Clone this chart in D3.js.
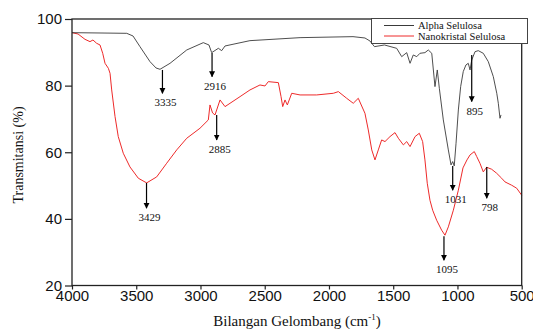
<!DOCTYPE html>
<html><head><meta charset="utf-8">
<script src="https://cdn.jsdelivr.net/npm/d3@7"></script>
<style>html,body{margin:0;padding:0;background:#fff;}svg{display:block;}</style>
</head><body><svg id="c" width="533" height="329"></svg>
<script>
// ---- data ----
const alphaWave = [4000,3782,3574,3525,3471,3393,3346,3315,3237,3107,2978,2934,2913,2861,2835,2809,2615,2225,1813,1720,1681,1646,1568,1473,1434,1395,1369,1344,1317,1292,1253,1227,1200,1175,1157,1141,1110,1071,1050,1037,1025,1011,993,975,955,934,916,902,889,863,838,799,760,721,694,682,669,661];
const alphaT    = [95.9,95.8,95.7,94.9,91.7,87.2,85.3,84.9,86.7,90.7,92.9,92.2,89.9,91.2,90.5,91.9,93.5,94.4,94.7,94.3,93.4,91.7,92.2,91.2,88.7,89.9,86.7,89.2,88.7,89.7,89.9,90.7,89.7,79.7,84.7,79.2,69.7,60.7,56.2,57.2,55.9,62.7,72.7,79.7,84.2,86.2,86.7,84.7,87.7,90.2,90.5,89.7,87.2,82.7,77.7,74.7,70.2,71.2];
const nanoWave = [4000,3953,3899,3860,3837,3808,3782,3761,3743,3717,3704,3691,3665,3640,3601,3549,3484,3419,3341,3263,3185,3107,3004,2939,2926,2906,2887,2848,2809,2692,2615,2537,2498,2472,2394,2373,2360,2342,2324,2290,2225,2096,1966,1927,1862,1811,1772,1720,1694,1667,1642,1616,1590,1564,1525,1486,1460,1421,1395,1369,1330,1297,1271,1253,1235,1214,1193,1162,1123,1097,1071,1032,993,957,926,902,869,850,825,799,773,734,695,656,630,578,539,500];
const nanoT    = [95.9,95.5,93.9,93.2,93.7,92.7,92.2,89.7,86.7,85.2,83.7,78.7,70.7,64.7,59.7,55.6,52.2,50.8,52.6,56.7,60.7,64.2,67.2,69.7,74.2,71.8,71.2,75.7,73.7,76.7,78.7,80.2,79.9,81.2,80.9,76.7,73.7,75.7,74.2,77.7,77.2,77.2,77.7,78.2,76.2,74.7,76.2,71.7,66.7,60.7,57.7,60.7,63.7,63.2,64.7,65.9,64.2,62.2,63.2,61.7,64.7,65.7,63.2,57.7,50.7,45.6,42.6,39.6,36.6,35.1,37.6,42.6,48.6,55.3,57.7,59.2,60.2,58.7,56.7,54.1,55.5,54.9,53.7,52.2,51.1,50.1,49.2,47.1];
const seriesNames = ["Alpha Selulosa","Nanokristal Selulosa"];
const xTicks = [4000,3500,3000,2500,2000,1500,1000,500];
const yTicks = [20,40,60,80,100];
// peak annotations: label, wavenumber of arrow, T where arrow starts, T at arrow head
const peakLabels = ["3335","2916","2885","3429","1095","1031","798","895"];
const peakWave   = [3296,2910,2874,3420,1105,1037,772,889];
const peakFromT  = [84.7,89.8,71.2,50.8,34.8,55.9,55.6,89.2];
const peakToT    = [77.7,82.7,63.7,43.2,27.6,48.6,46.2,75.2];

// ---- chart ----
const svg = d3.select("#c");
const L=72, R=521.7, T=19, B=285.5;
const x = d3.scaleLinear().domain([4000,500]).range([L,R]);
const y = d3.scaleLinear().domain([20,100]).range([B,T]);

svg.append("defs").append("marker").attr("id","ah").attr("viewBox","0 0 10 10")
  .attr("refX",9).attr("refY",5).attr("markerWidth",6).attr("markerHeight",7)
  .attr("markerUnits","userSpaceOnUse").attr("orient","auto")
  .append("path").attr("d","M0,0L10,5L0,10Z").attr("fill","#000");

const line = d3.line().x(d=>x(d[0])).y(d=>y(d[1]));
const alpha = alphaWave.map((w,i)=>[w,alphaT[i]]);
const nano = nanoWave.map((w,i)=>[w,nanoT[i]]);

svg.append("path").datum(nano).attr("d",line).attr("fill","none")
  .attr("stroke","#ee2a2a").attr("stroke-width",1);
svg.append("path").datum(alpha).attr("d",line).attr("fill","none")
  .attr("stroke","#3a3a3a").attr("stroke-width",0.9);

// frame
svg.append("rect").attr("x",L).attr("y",T).attr("width",R-L).attr("height",B-T)
  .attr("fill","none").attr("stroke","#222").attr("stroke-width",1.3);

// axes
const xAxis = d3.axisBottom(x).tickValues(xTicks).tickSize(4).tickPadding(1).tickFormat(d3.format("d"));
const gx = svg.append("g").attr("transform",`translate(0,${B})`).call(xAxis);
gx.select(".domain").remove();
gx.selectAll("line").attr("stroke","#222").attr("stroke-width",1.2);
gx.selectAll("text").attr("font-family","'Liberation Sans',Arial,sans-serif").attr("font-size",15).attr("fill","#111");

const yAxis = d3.axisLeft(y).tickValues(yTicks).tickSize(7).tickPadding(3).tickFormat(d3.format("d"));
const gy = svg.append("g").attr("transform",`translate(${L},0)`).call(yAxis);
gy.select(".domain").remove();
gy.selectAll("line").attr("stroke","#222").attr("stroke-width",1.2);
gy.selectAll("text").attr("font-family","'Liberation Sans',Arial,sans-serif").attr("font-size",15).attr("fill","#111");

// axis titles
svg.append("text").attr("x",297).attr("y",326).attr("text-anchor","middle")
  .attr("font-family","'Liberation Serif','Times New Roman',serif").attr("font-size",15).attr("fill","#111")
  .html('Bilangan Gelombang (cm<tspan dy="-6" font-size="9">-1</tspan><tspan dy="6">)</tspan>');
svg.append("text").attr("transform","translate(23,155) rotate(-90)").attr("text-anchor","middle")
  .attr("font-family","'Liberation Serif','Times New Roman',serif").attr("font-size",14).attr("fill","#111")
  .text("Transmitansi (%)");

// annotations
peakLabels.forEach((lab,i)=>{
  const ax = x(peakWave[i]);
  svg.append("line").attr("x1",ax).attr("x2",ax).attr("y1",y(peakFromT[i])).attr("y2",y(peakToT[i]))
    .attr("stroke","#000").attr("stroke-width",1.2).attr("marker-end","url(#ah)");
  svg.append("text").attr("x",ax+3).attr("y",y(peakToT[i])+13).attr("text-anchor","middle")
    .attr("font-family","'Liberation Serif','Times New Roman',serif").attr("font-size",11).attr("fill","#111")
    .text(lab);
});

// legend
const lg = svg.append("g");
lg.append("rect").attr("x",371.5).attr("y",18.5).attr("width",156).attr("height",25)
  .attr("fill","#fff").attr("stroke","#444").attr("stroke-width",1);
const legColors = ["#3a3a3a","#ee2a2a"];
seriesNames.forEach((n,i)=>{
  const yy = 25.5 + i*10.5;
  lg.append("line").attr("x1",384).attr("x2",414).attr("y1",yy).attr("y2",yy)
    .attr("stroke",legColors[i]).attr("stroke-width",1);
  lg.append("text").attr("x",418).attr("y",yy+3.5)
    .attr("font-family","'Liberation Serif','Times New Roman',serif").attr("font-size",10.5).attr("fill","#111")
    .text(n);
});
</script></body></html>
